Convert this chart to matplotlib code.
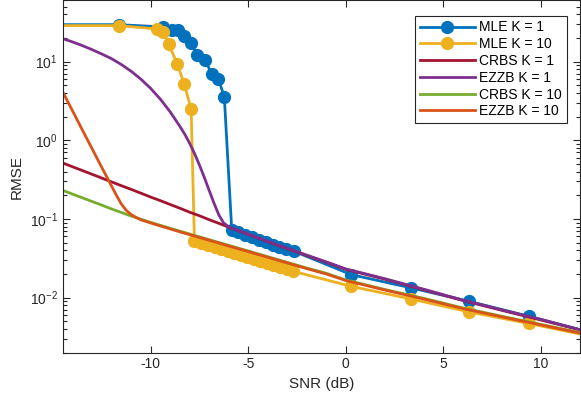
import matplotlib
matplotlib.use("Agg")
import matplotlib.pyplot as plt
from matplotlib.ticker import LogLocator, NullFormatter

plt.rcParams['font.family'] = ['Liberation Sans', 'DejaVu Sans']
plt.rcParams['mathtext.default'] = 'regular'
plt.rcParams['axes.unicode_minus'] = False

# MLE K = 1 (markers on every point)
mle1_snr = [-15.0, -11.64, -9.34, -8.91, -8.57, -8.28, -7.92, -7.63, -7.21, -6.87, -6.53, -6.22,
            -5.84, -5.50, -5.16, -4.82, -4.45, -4.10, -3.75, -3.40, -3.04, -2.66,
            0.29, 3.36, 6.30, 9.37, 12.4]
mle1_rmse = [29.5, 29.5, 27.6, 25.0, 25.0, 21.0, 17.3, 12.3, 10.6, 7.0, 6.1, 3.56,
             0.073, 0.0676, 0.063, 0.059, 0.0545, 0.051, 0.047, 0.044, 0.041, 0.039,
             0.0196, 0.0133, 0.0090, 0.0058, 0.0037]

# MLE K = 10
mle10_snr = [-15.0, -11.64, -9.68, -9.37, -9.08, -8.62, -8.28, -7.92,
             -7.75, -7.39, -7.05, -6.72, -6.38, -6.05, -5.71, -5.38, -5.04, -4.71,
             -4.37, -4.04, -3.70, -3.37, -3.03, -2.69,
             0.29, 3.36, 6.30, 9.37, 12.4]
mle10_rmse = [28.7, 28.7, 26.0, 23.8, 16.9, 9.2, 5.25, 2.5,
              0.052, 0.049, 0.046, 0.0437, 0.041, 0.039, 0.0366, 0.0345, 0.0325, 0.0307,
              0.029, 0.0273, 0.0258, 0.0243, 0.0229, 0.0216,
              0.0139, 0.0096, 0.0066, 0.0047, 0.0033]

# CRBS, both K
crbs_snr = [-14.5, -14, -13.5, -13, -12.5, -12, -11.5, -11, -10.5, -10, -9.5, -9,
            -8.5, -8, -7.5, -7, -6.5, -6, -5.5, -5, -4, -3, -2, -1, 0,
            2, 4, 6, 8, 10, 12]
crbs1 = [0.515, 0.461, 0.413, 0.370, 0.331, 0.296, 0.265, 0.238, 0.213, 0.190, 0.171, 0.153,
         0.137, 0.122, 0.110, 0.098, 0.088, 0.0787, 0.0708, 0.0637, 0.0515, 0.0419, 0.0343, 0.0282, 0.0229,
         0.0172, 0.0126, 0.0092, 0.0069, 0.0052, 0.0039]
crbs10 = [0.231, 0.207, 0.186, 0.167, 0.150, 0.134, 0.121, 0.109, 0.0993, 0.0906, 0.083, 0.0762,
          0.070, 0.0644, 0.0593, 0.0546, 0.0502, 0.0462, 0.0426, 0.0392, 0.0332, 0.0281, 0.0238, 0.0204, 0.0168,
          0.0127, 0.0098, 0.0074, 0.0058, 0.00457, 0.0036]

# EZZB K = 1
ezzb1_snr = [-14.5, -14, -13.5, -13, -12.5, -12, -11.5, -11, -10.5, -10, -9.5, -9,
             -8.5, -8.25, -8, -7.75, -7.5, -7.25, -7, -6.75, -6.5, -6.25, -6, -5.75, -5.5, -5,
             -4, -3, -2, -1, 0, 2, 4, 6, 8, 10, 12]
ezzb1 = [19.6, 17.8, 16.0, 14.2, 12.5, 10.9, 9.2, 7.56, 6.0, 4.58, 3.34, 2.31,
         1.508, 1.198, 0.919, 0.682, 0.488, 0.340, 0.232, 0.159, 0.1125, 0.0885, 0.080, 0.0755, 0.0711, 0.0643,
         0.052, 0.0425, 0.0347, 0.0285, 0.0232, 0.0174, 0.0128, 0.0093, 0.0070, 0.0053, 0.0039]

# EZZB K = 10
ezzb10_snr = [-14.5, -14, -13.5, -13, -12.5, -12, -11.75, -11.5, -11.25, -11, -10.75, -10.5,
              -10, -9.5, -9, -8.5, -8, -7.5, -7, -6.5, -6, -5.5, -5, -4, -3, -2, -1, 0,
              2, 4, 6, 8, 10, 12]
ezzb10 = [4.12, 2.37, 1.36, 0.785, 0.452, 0.263, 0.20, 0.155, 0.129, 0.114, 0.105, 0.0978,
          0.089, 0.0815, 0.0748, 0.0687, 0.0632, 0.0582, 0.0536, 0.0493, 0.0454, 0.0418, 0.0385,
          0.0326, 0.0276, 0.0234, 0.020, 0.0165,
          0.0125, 0.0096, 0.00727, 0.0057, 0.0045, 0.00355]

fig = plt.figure(figsize=(5.81, 3.98), dpi=100)
ax = fig.add_axes([0.108, 0.114, 0.89, 0.885])

ax.semilogy(mle1_snr, mle1_rmse, '-o', color='#0072BD', lw=2, ms=8.5, label='MLE K = 1')
ax.semilogy(mle10_snr, mle10_rmse, '-o', color='#EDB120', lw=2, ms=8.5, label='MLE K = 10')
ax.semilogy(crbs_snr, crbs1, color='#A2142F', lw=2, label='CRBS K = 1')
ax.semilogy(ezzb1_snr, ezzb1, color='#7E2F8E', lw=2, label='EZZB K = 1')
ax.semilogy(crbs_snr, crbs10, color='#77AC30', lw=2, label='CRBS K = 10')
ax.semilogy(ezzb10_snr, ezzb10, color='#D95319', lw=2, label='EZZB K = 10')

ax.set_xlim(-14.5, 12)
ax.set_ylim(0.002, 60)
ax.set_xticks([-10, -5, 0, 5, 10])
ax.yaxis.set_major_locator(LogLocator(base=10, numticks=10))
ax.yaxis.set_minor_locator(LogLocator(base=10, subs=range(2, 10), numticks=20))
ax.yaxis.set_minor_formatter(NullFormatter())

ax.tick_params(which='both', direction='in', top=True, right=True, labelsize=10,
               colors='#262626', width=0.8)
ax.tick_params(which='major', length=5)
ax.tick_params(which='minor', length=3)
for s in ax.spines.values():
    s.set_color('#262626')
    s.set_linewidth(0.8)

ax.set_xlabel('SNR (dB)', fontsize=11, color='#262626')
ax.set_ylabel('RMSE', fontsize=11, color='#262626')

leg = ax.legend(loc='upper right', bbox_to_anchor=(0.975, 0.957), borderaxespad=0,
                fancybox=False, edgecolor='#262626', framealpha=1, fontsize=10,
                handlelength=4.0, labelspacing=0.2, handletextpad=0.3,
                borderpad=0.35)
leg.get_frame().set_linewidth(0.8)

fig.savefig('out.png', dpi=100)
